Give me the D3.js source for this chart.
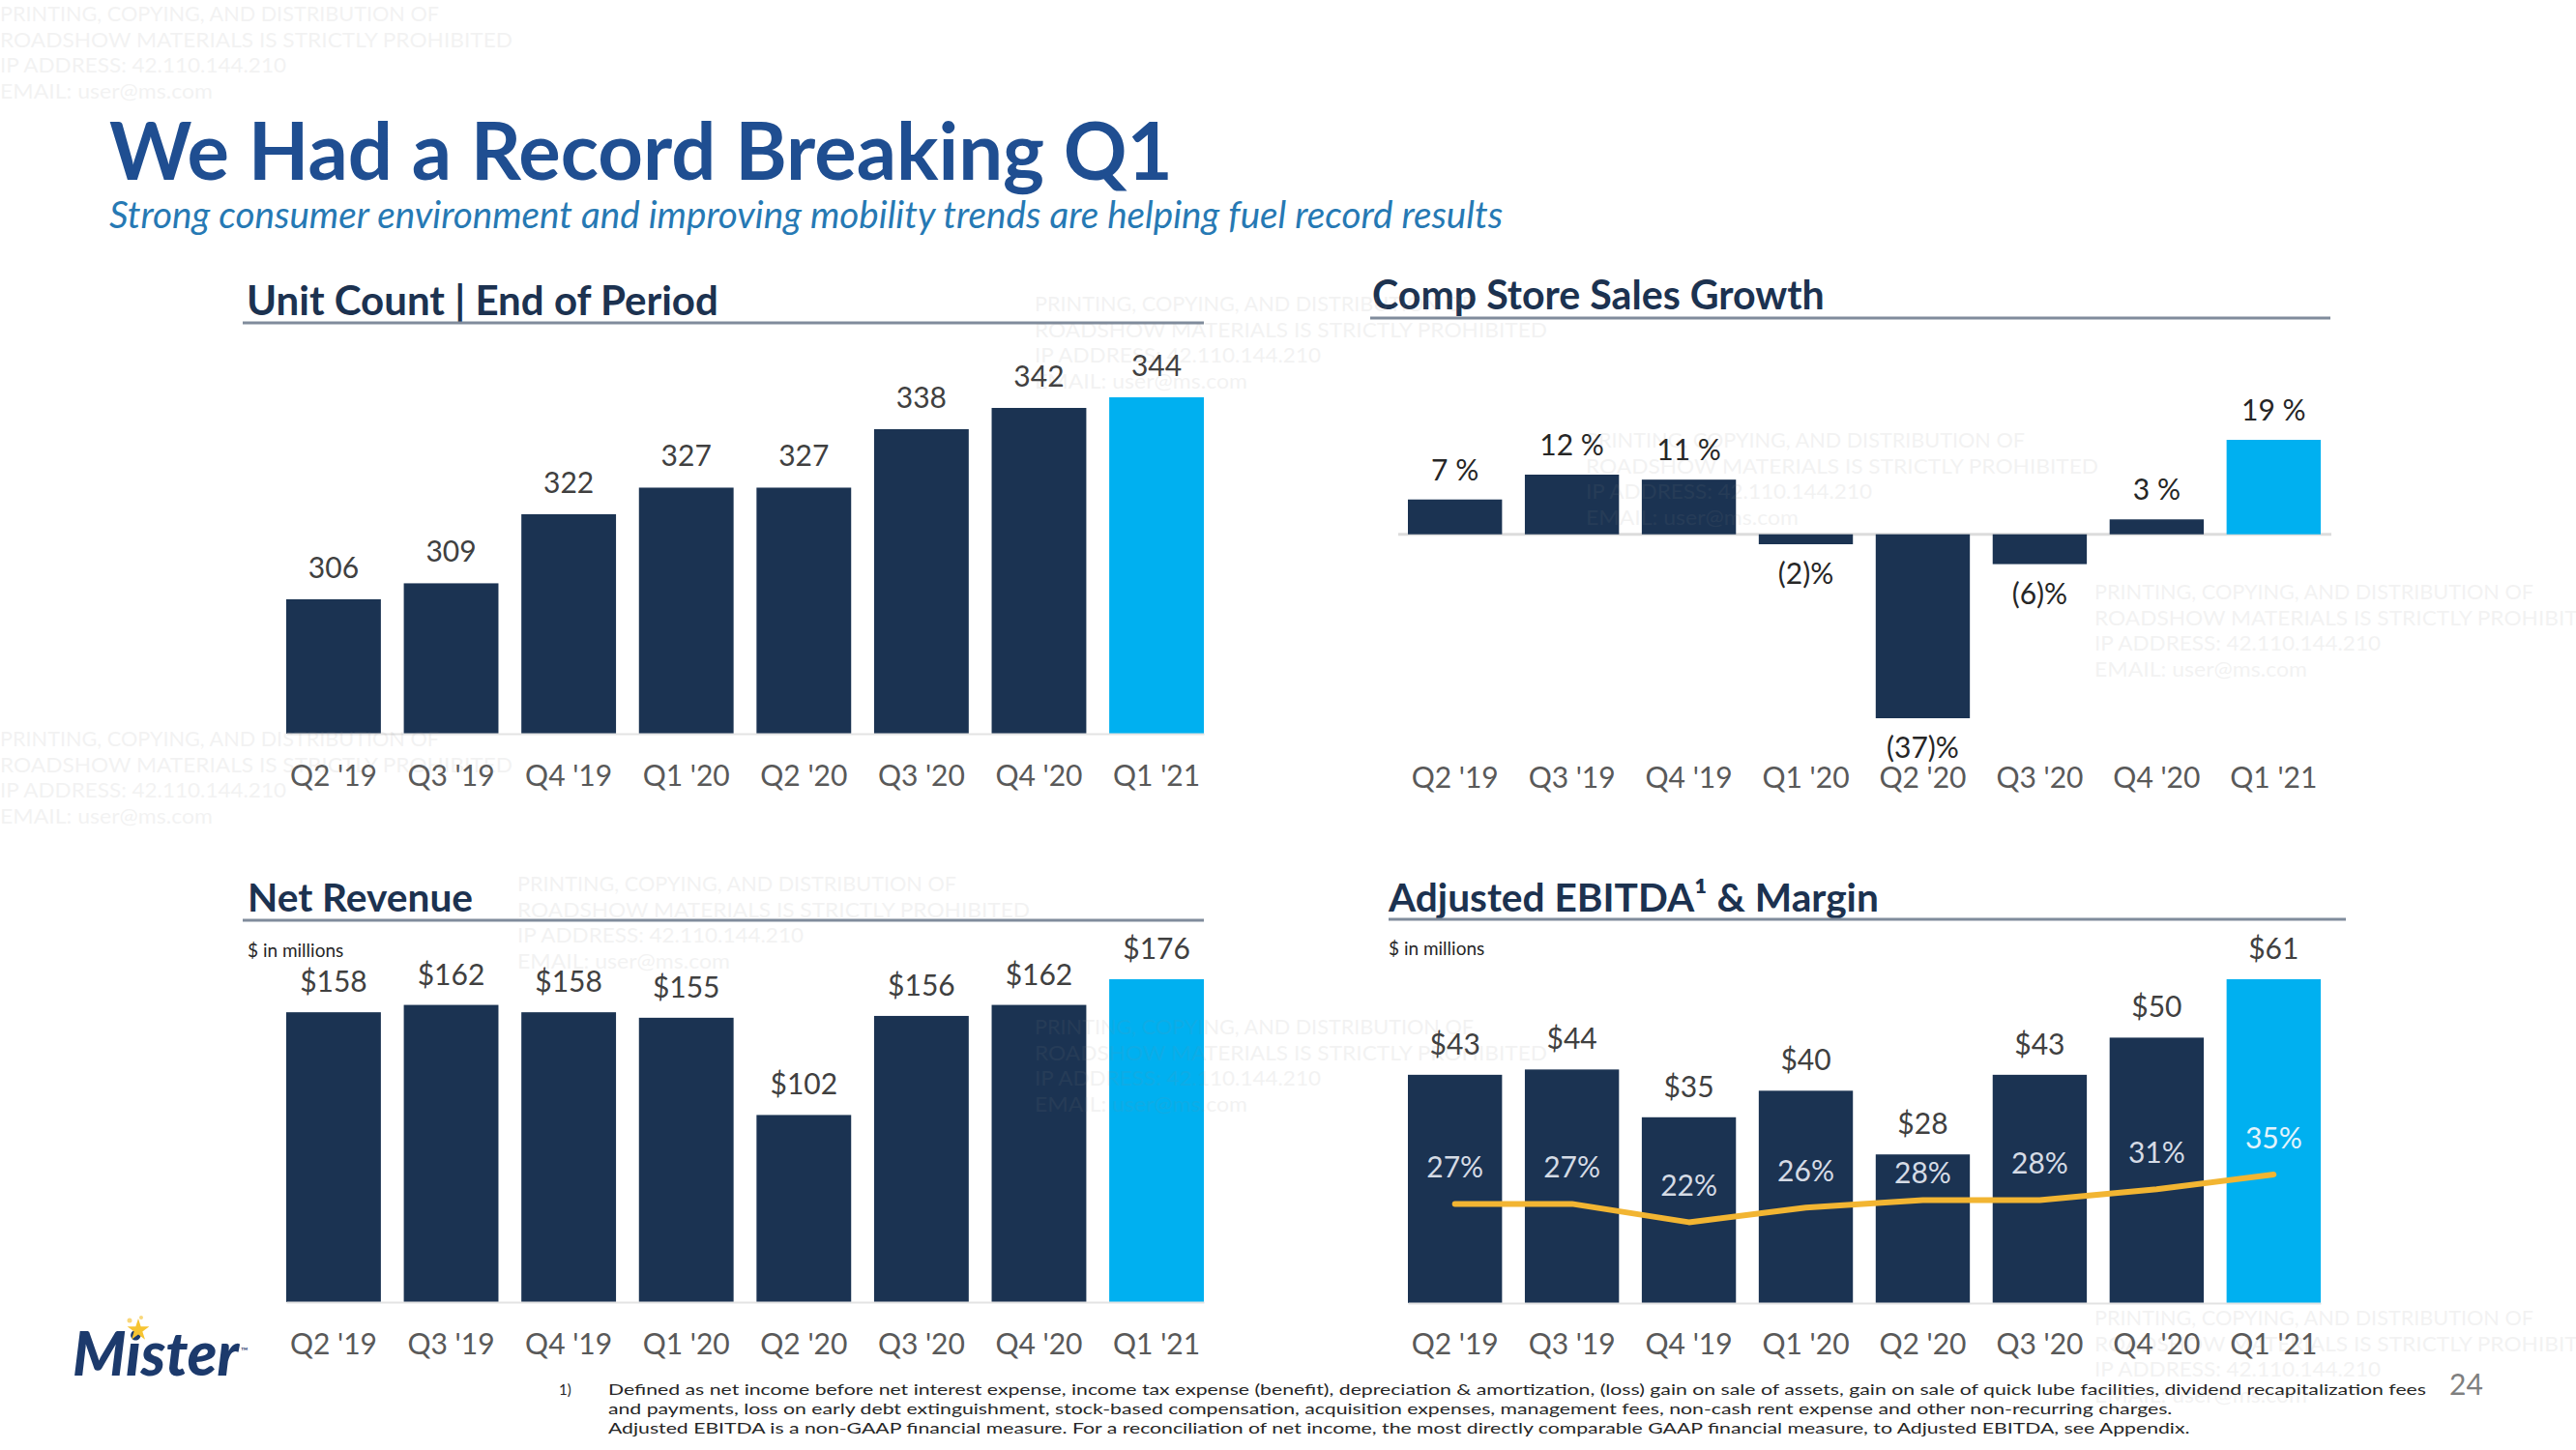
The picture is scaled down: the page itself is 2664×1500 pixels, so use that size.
<!DOCTYPE html>
<html><head><meta charset="utf-8">
<script src="https://cdn.jsdelivr.net/npm/d3@7"></script>
<style>body{margin:0;background:#fff}svg{display:block}</style>
</head><body>
<svg id="c" width="2664" height="1500"></svg>
<script>
// ---------------- data ----------------
const quarters = ["Q2 '19","Q3 '19","Q4 '19","Q1 '20","Q2 '20","Q3 '20","Q4 '20","Q1 '21"];
const unitCount = [306,309,322,327,327,338,342,344];
const compSales = [7,12,11,-2,-37,-6,3,19];
const netRevenue = [158,162,158,155,102,156,162,176];
const ebitda = [43,44,35,40,28,43,50,61];
const ebitdaMargin = [27,27,22,26,28,28,31,35];

const titleText = "We Had a Record Breaking Q1";
const subtitleText = "Strong consumer environment and improving mobility trends are helping fuel record results";
const footnoteLines = [
  "Defined as net income before net interest expense, income tax expense (benefit), depreciation & amortization, (loss) gain on sale of assets, gain on sale of quick lube facilities, dividend recapitalization fees",
  "and payments, loss on early debt extinguishment, stock-based compensation, acquisition expenses, management fees, non-cash rent expense and other non-recurring charges.",
  "Adjusted EBITDA is a non-GAAP financial measure. For a reconciliation of net income, the most directly comparable GAAP financial measure, to Adjusted EBITDA, see Appendix."
];
const watermarkLines = ["PRINTING, COPYING, AND DISTRIBUTION OF","ROADSHOW MATERIALS IS STRICTLY PROHIBITED","IP ADDRESS: 42.110.144.210","EMAIL: user@ms.com"];

// ---------------- style ----------------
const NAVY="#1b3352", LIGHT="#00b0f0", FONT="Lato, 'Open Sans', sans-serif";
const svg = d3.select("#c");
const isLast = i => i === quarters.length-1;

function fitWidth(sel, target){
  const w = sel.node().getComputedTextLength();
  const fs = parseFloat(sel.attr("font-size"));
  sel.attr("font-size", fs*target/w);
  return fs*target/w;
}
function sectionTitle(txt, x, y, w, lx0, lx1, ly){
  const t = svg.append("text").attr("x",x).attr("y",y).attr("font-family",FONT)
    .attr("font-weight",700).attr("font-size",35).attr("fill","#1c3250").text(txt);
  fitWidth(t,w);
  svg.append("line").attr("x1",lx0).attr("x2",lx1).attr("y1",ly).attr("y2",ly)
    .attr("stroke","#808c9c").attr("stroke-width",3);
}
function xAxis(scale, y, labelCenter, domain){
  const g = svg.append("g").attr("transform",`translate(0,${y})`)
    .call(d3.axisBottom(scale).tickSize(0).tickSizeOuter(0));
  g.select(".domain").attr("stroke", domain ? "#e3e3e3" : "none").attr("stroke-width",2);
  g.selectAll("text").attr("y", labelCenter - y).attr("dy","0.35em")
    .attr("font-family",FONT).attr("font-size",30).attr("fill","#595959");
}
function valueText(x, y, txt, fill){
  svg.append("text").attr("x",x).attr("y",y).attr("text-anchor","middle")
    .attr("font-family",FONT).attr("font-size",30).attr("fill",fill||"#404040").text(txt);
}

// faint watermarks (drawn first so chart text stays readable)
const wmSpots = [[0,22],[1070,322],[0,772],[535,922],[1070,1070],[1640,463],[2166,620],[2166,1371]];
const wmWidths = [454,530,296,220];

// ---------------- header ----------------
const tt = svg.append("text").attr("x",113).attr("y",186).attr("font-family",FONT)
  .attr("font-weight",700).attr("font-size",74).attr("fill","#1f4e91").text(titleText);
fitWidth(tt,1100);
const st = svg.append("text").attr("x",113).attr("y",236).attr("font-family",FONT)
  .attr("font-style","italic").attr("font-size",30).attr("fill","#2679b4").text(subtitleText);
fitWidth(st,1442);

// ---------------- Unit Count ----------------
sectionTitle("Unit Count | End of Period",255,326,488,251,1245,334);
const xU = d3.scaleBand().domain(quarters).range([296,1245]).paddingInner(0.195);
const yU = d3.scaleLinear().domain([280.7,344]).range([759,411]);
svg.append("g").selectAll("rect").data(unitCount).join("rect")
  .attr("x",(d,i)=>xU(quarters[i])).attr("width",xU.bandwidth())
  .attr("y",d=>yU(d)).attr("height",d=>yU(280.7)-yU(d))
  .attr("fill",(d,i)=>isLast(i)?LIGHT:NAVY);
unitCount.forEach((d,i)=>valueText(xU(quarters[i])+xU.bandwidth()/2, yU(d)-22, d));
xAxis(xU,759,802,true);

// ---------------- Comp Store Sales ----------------
sectionTitle("Comp Store Sales Growth",1419,320,468,1417,2410,329);
const xC = d3.scaleBand().domain(quarters).range([1456,2400]).paddingInner(0.195);
const yC = d3.scaleLinear().domain([-37,19]).range([743,455]);
svg.append("line").attr("x1",1446).attr("x2",2411).attr("y1",yC(0)).attr("y2",yC(0))
  .attr("stroke","#dcdcdc").attr("stroke-width",3);
svg.append("g").selectAll("rect").data(compSales).join("rect")
  .attr("x",(d,i)=>xC(quarters[i])).attr("width",xC.bandwidth())
  .attr("y",d=>Math.min(yC(d),yC(0))).attr("height",d=>Math.abs(yC(d)-yC(0)))
  .attr("fill",(d,i)=>isLast(i)?LIGHT:NAVY);
compSales.forEach((d,i)=>{
  const cx = xC(quarters[i])+xC.bandwidth()/2;
  if(d>=0) valueText(cx, yC(d)-20, d+" %", "#262626");
  else valueText(cx, yC(d)+41, "("+(-d)+")%", "#262626");
});
xAxis(xC,759,804,false);

// ---------------- Net Revenue ----------------
sectionTitle("Net Revenue",256,943,233,251,1245,952);
svg.append("text").attr("x",256).attr("y",990).attr("font-family",FONT).attr("font-size",19)
  .attr("fill","#262626").text("$ in millions");
const xN = d3.scaleBand().domain(quarters).range([296,1245]).paddingInner(0.195);
const yN = d3.scaleLinear().domain([0,176]).range([1347,1013]);
svg.append("g").selectAll("rect").data(netRevenue).join("rect")
  .attr("x",(d,i)=>xN(quarters[i])).attr("width",xN.bandwidth())
  .attr("y",d=>yN(d)).attr("height",d=>yN(0)-yN(d))
  .attr("fill",(d,i)=>isLast(i)?LIGHT:NAVY);
netRevenue.forEach((d,i)=>valueText(xN(quarters[i])+xN.bandwidth()/2, yN(d)-21, "$"+d));
xAxis(xN,1347,1390,true);

// ---------------- Adjusted EBITDA ----------------
sectionTitle("Adjusted EBITDA\u00B9 & Margin",1436,943,507,1436,2426,951);
svg.append("text").attr("x",1436).attr("y",988).attr("font-family",FONT).attr("font-size",19)
  .attr("fill","#262626").text("$ in millions");
const xE = d3.scaleBand().domain(quarters).range([1456,2400]).paddingInner(0.195);
const yE = d3.scaleLinear().domain([0,61]).range([1348,1013]);
const yM = d3.scaleLinear().domain([0,35]).range([1348,1215]);
svg.append("g").selectAll("rect").data(ebitda).join("rect")
  .attr("x",(d,i)=>xE(quarters[i])).attr("width",xE.bandwidth())
  .attr("y",d=>yE(d)).attr("height",d=>yE(0)-yE(d))
  .attr("fill",(d,i)=>isLast(i)?LIGHT:NAVY);
ebitda.forEach((d,i)=>valueText(xE(quarters[i])+xE.bandwidth()/2, yE(d)-21, "$"+d));
const cxE = i => xE(quarters[i])+xE.bandwidth()/2;
svg.append("path").datum(ebitdaMargin)
  .attr("d", d3.line().x((d,i)=>cxE(i)).y(d=>yM(d)))
  .attr("fill","none").attr("stroke","#f2b532").attr("stroke-width",6)
  .attr("stroke-linejoin","round").attr("stroke-linecap","round");
ebitdaMargin.forEach((d,i)=>{
  const cy = Math.max(yM(d)-38, yE(ebitda[i])+19);
  svg.append("text").attr("x",cxE(i)).attr("y",cy).attr("dy","0.35em")
    .attr("text-anchor","middle").attr("font-family",FONT).attr("font-size",30)
    .attr("fill", isLast(i)?"#e4f4fc":"#d5dbe5").text(d+"%");
});
xAxis(xE,1348,1390,true);

// ---------------- footer ----------------
svg.append("text").attr("x",578).attr("y",1443).attr("font-family",FONT).attr("font-size",15)
  .attr("fill","#262626").text("1)");
let ratio = 1;
footnoteLines.forEach((s,i)=>{
  const t = svg.append("text").attr("x",629).attr("y",1443+i*20).attr("font-family",FONT)
    .attr("font-size",15).attr("fill","#262626").text(s);
  const w = t.node().getComputedTextLength();
  if(i===0) ratio = 1880/w;
  t.attr("textLength", w*ratio).attr("lengthAdjust","spacingAndGlyphs");
});
svg.append("text").attr("x",2533).attr("y",1443).attr("font-family",FONT).attr("font-size",30)
  .attr("fill","#7f7f7f").text("24");

// logo
const logo = svg.append("text").attr("x",75).attr("y",1423).attr("font-family",FONT)
  .attr("font-weight",900).attr("font-style","italic").attr("font-size",58)
  .attr("fill","#1c3a6c").text("Mister");
fitWidth(logo,172);
svg.append("path").attr("d",d3.symbol(d3.symbolStar).size(160)())
  .attr("transform","translate(143,1376)").attr("fill","#f6c431");
svg.append("circle").attr("cx",134).attr("cy",1366).attr("r",2.5).attr("fill","#f8d77a");
svg.append("circle").attr("cx",146).attr("cy",1363).attr("r",2).attr("fill","#f8d77a");
svg.append("text").attr("x",249).attr("y",1401).attr("font-family",FONT).attr("font-size",10)
  .attr("fill","#1c3a6c").text("\u2122");

// watermarks on top, very faint
wmSpots.forEach(([x,y])=>{
  watermarkLines.forEach((s,i)=>{
    svg.append("text").attr("x",x).attr("y",y+i*26.5).attr("font-family",FONT)
      .attr("font-size",21).attr("textLength",wmWidths[i]).attr("lengthAdjust","spacingAndGlyphs")
      .attr("fill","#8a8a8a").attr("opacity",0.1).text(s);
  });
});
</script>
</body></html>
